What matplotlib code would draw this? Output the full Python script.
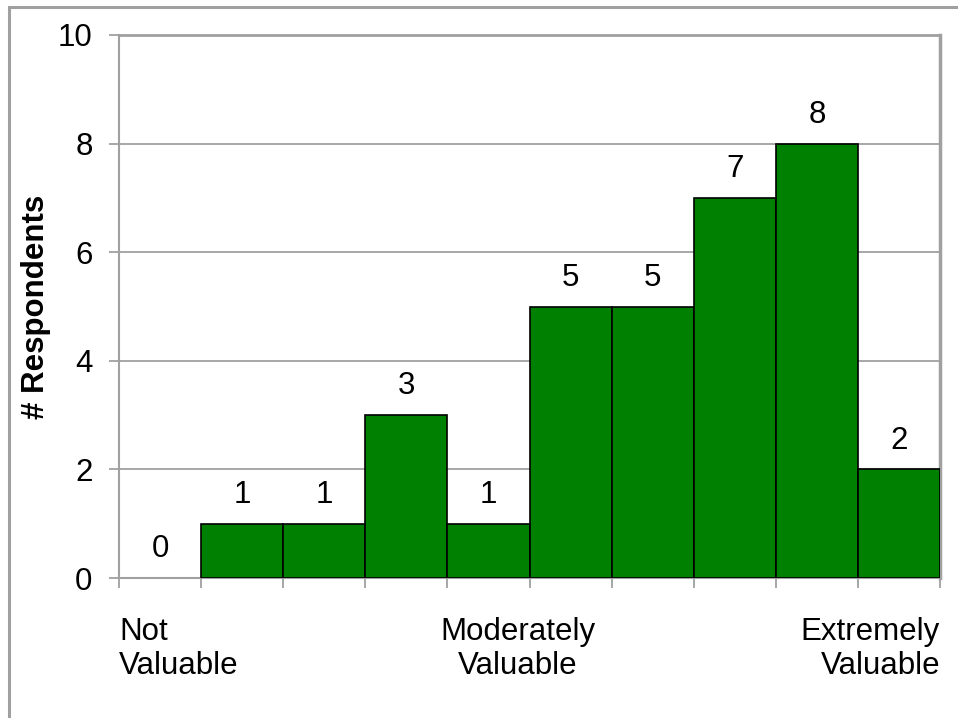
import matplotlib
matplotlib.use("Agg")
import matplotlib.pyplot as plt
from matplotlib.patches import Rectangle

plt.rcParams['font.family'] = ['Liberation Sans', 'DejaVu Sans']

counts = [0, 1, 1, 3, 1, 5, 5, 7, 8, 2]
yticks = [0, 2, 4, 6, 8, 10]
end_labels = ["Not\nValuable", "Moderately\nValuable", "Extremely\nValuable"]

grey = "#a0a0a0"
fs = 22.5

fig = plt.figure(figsize=(9.58, 7.18), dpi=100)
# outer chart border
fig.patches.append(Rectangle((9 / 958, -0.1), 1.2, 1 - 7 / 718 + 0.1,
                             transform=fig.transFigure, fill=False,
                             edgecolor=grey, linewidth=2.2))

ax = fig.add_axes([119 / 958, 1 - 578 / 718, (940 - 119) / 958, (578 - 35) / 718])

x = list(range(len(counts)))
bars = ax.bar(x, counts, width=1.0, align='edge', color='#008000',
              edgecolor='black', linewidth=1.2, zorder=3)
for b, v in zip(bars, counts):
    if v == 0:
        b.set_linewidth(0)

for i, v in enumerate(counts):
    ax.annotate(str(v), (i + 0.5, v), xytext=(0, 10), textcoords='offset points',
                ha='center', va='bottom', fontsize=fs)

ax.set_xlim(0, len(counts))
ax.set_ylim(0, 10)
ax.set_yticks(yticks)
ax.yaxis.grid(True, color=grey, linewidth=1.3, zorder=0)
ax.set_axisbelow(True)

ax.set_xticks(range(len(counts) + 1))
ax.set_xticklabels([])
ax.tick_params(axis='x', direction='out', length=7, width=1.3, color=grey)
ax.tick_params(axis='y', direction='out', length=7, width=1.3, color=grey,
               labelsize=fs, pad=12)

for s in ax.spines.values():
    s.set_color(grey)
    s.set_linewidth(1.5)
ax.spines['top'].set_linewidth(2.0)
ax.spines['right'].set_linewidth(2.5)

ax.set_ylabel("# Respondents", fontsize=fs, fontweight='bold', labelpad=5)

ty = -0.72
ax.text(0.0, ty, end_labels[0], ha='left', va='top', fontsize=fs,
        linespacing=1.15)
ax.text(4.86, ty, end_labels[1], ha='center', va='top', fontsize=fs,
        multialignment='center', linespacing=1.15)
ax.text(10.0, ty, end_labels[2], ha='right', va='top', fontsize=fs,
        multialignment='right', linespacing=1.15)

fig.savefig("out.png", dpi=100)
